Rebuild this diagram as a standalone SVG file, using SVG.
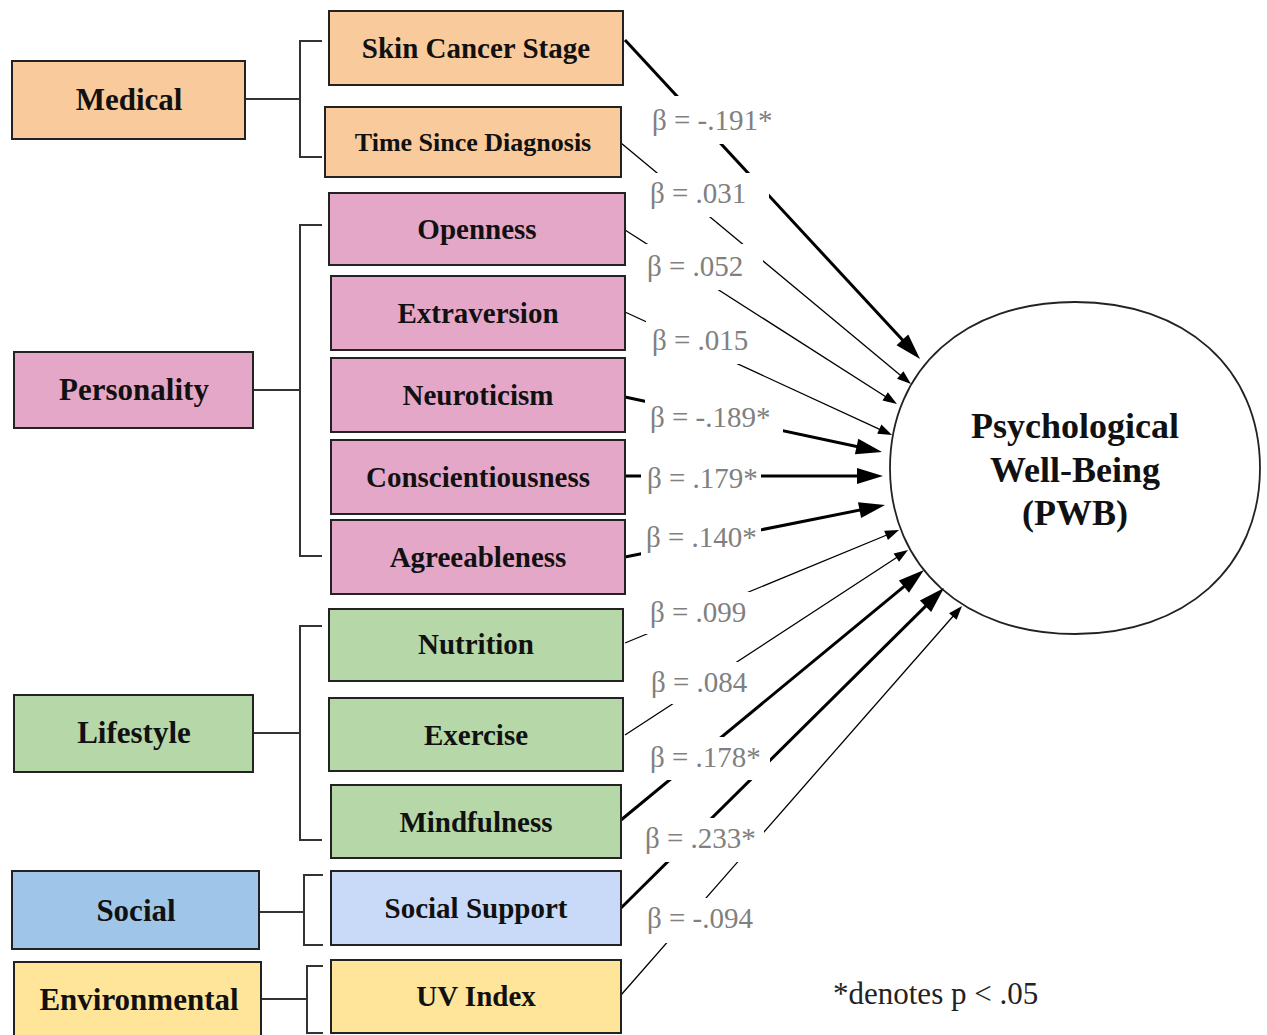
<svg xmlns="http://www.w3.org/2000/svg" width="1267" height="1035" viewBox="0 0 1267 1035">
<style>
.box{stroke:#222;stroke-width:2}
.med{fill:#f9cb9c}.per{fill:#e4a7c8}.lif{fill:#b6d7a8}.soc{fill:#9fc5e8}.ss{fill:#c9daf8}.env{fill:#ffe599}
.t{font-family:"Liberation Serif","Times New Roman",serif;font-weight:bold;fill:#111;text-anchor:middle}
.sub{font-size:29px}.cat{font-size:31px}
.br{fill:none;stroke:#333;stroke-width:2}
.thick{stroke:#000;stroke-width:3;fill:none}
.thin{stroke:#000;stroke-width:1.3;fill:none}
.lbl{font-family:"Liberation Serif","Times New Roman",serif;font-size:29px;fill:#808080}
.bg{fill:#fff}
</style>
<defs>
<marker id="ah" markerUnits="userSpaceOnUse" markerWidth="30" markerHeight="20" refX="18" refY="8" orient="auto" overflow="visible"><path d="M0,0 L26,8 L0,16 z" fill="#000"/></marker>
<marker id="as" markerUnits="userSpaceOnUse" markerWidth="16" markerHeight="12" refX="10" refY="5" orient="auto" overflow="visible"><path d="M0,0 L14,5 L0,10 z" fill="#000"/></marker>
</defs>
<rect width="1267" height="1035" fill="#fff"/>

<g id="pwb">
<path d="M890,468 C890,368.4 965,302 1075,302 C1185,302 1260,368.4 1260,468 C1260,567.6 1185,634 1075,634 C965,634 890,567.6 890,468 Z" fill="#fff" stroke="#222" stroke-width="1.8"/>
<text class="t" x="1075" y="438" font-size="36">Psychological</text>
<text class="t" x="1075" y="482" font-size="36">Well-Being</text>
<text class="t" x="1075" y="525" font-size="36">(PWB)</text>
</g>

<g id="connectors">
<path class="br" d="M245,99 H300 M322,41 H300 V157 H322"/>
<path class="br" d="M253,390 H300 M322,225 H300 V556 H322"/>
<path class="br" d="M253,733 H300 M322,626 H300 V840 H322"/>
<path class="br" d="M259,912 H304 M323,875 H304 V945 H323"/>
<path class="br" d="M261,999 H307 M323,966 H307 V1033 H323"/>

<line class="thick" x1="625" y1="40" x2="914.6" y2="353.1" marker-end="url(#ah)"/>
<line class="thin" x1="621" y1="143" x2="907.9" y2="381.4" marker-end="url(#as)"/>
<line class="thin" x1="625" y1="230" x2="893.6" y2="401.8" marker-end="url(#as)"/>
<line class="thin" x1="625" y1="312" x2="888.4" y2="433.3" marker-end="url(#as)"/>
<line class="thick" x1="625" y1="397" x2="874.2" y2="450.3" marker-end="url(#ah)"/>
<line class="thick" x1="625" y1="476" x2="875" y2="476" marker-end="url(#ah)"/>
<line class="thick" x1="625" y1="557" x2="877.2" y2="506.6" marker-end="url(#ah)"/>
<line class="thin" x1="625" y1="643" x2="895.3" y2="531.5" marker-end="url(#as)"/>
<line class="thin" x1="625" y1="735" x2="904.7" y2="552.2" marker-end="url(#as)"/>
<line class="thick" x1="621" y1="820" x2="917.8" y2="575.1" marker-end="url(#ah)"/>
<line class="thick" x1="621" y1="908" x2="938.3" y2="593.6" marker-end="url(#ah)"/>
<line class="thin" x1="621" y1="995" x2="959.4" y2="609" marker-end="url(#as)"/>

<rect class="bg" x="647" y="96" width="133" height="48"/>
<text class="lbl" x="652" y="130">β = -.191*</text>
<rect class="bg" x="645" y="173" width="124" height="44"/>
<text class="lbl" x="650" y="203">β = .031</text>
<rect class="bg" x="643" y="244" width="120" height="46"/>
<text class="lbl" x="647" y="276">β = .052</text>
<rect class="bg" x="646" y="320" width="114" height="44"/>
<text class="lbl" x="652" y="350">β = .015</text>
<rect class="bg" x="645" y="397" width="138" height="44"/>
<text class="lbl" x="650" y="427">β = -.189*</text>
<rect class="bg" x="641" y="458" width="120" height="44"/>
<text class="lbl" x="647" y="488">β = .179*</text>
<rect class="bg" x="641" y="517" width="120" height="44"/>
<text class="lbl" x="646" y="547">β = .140*</text>
<rect class="bg" x="645" y="592" width="115" height="42"/>
<text class="lbl" x="650" y="622">β = .099</text>
<rect class="bg" x="646" y="662" width="111" height="42"/>
<text class="lbl" x="651" y="692">β = .084</text>
<rect class="bg" x="645" y="737" width="125" height="43"/>
<text class="lbl" x="650" y="767">β = .178*</text>
<rect class="bg" x="640" y="818" width="124" height="44"/>
<text class="lbl" x="645" y="848">β = .233*</text>
<rect class="bg" x="642" y="898" width="121" height="45"/>
<text class="lbl" x="647" y="928">β = -.094</text>
</g>

<g id="medical"><rect class="box med" x="12" y="61" width="233" height="78"/><text class="t cat" x="129" y="110">Medical</text></g>
<g id="skin-cancer-stage"><rect class="box med" x="329" y="11" width="294" height="74"/><text class="t sub" x="476" y="58">Skin Cancer Stage</text></g>
<g id="time-since-diagnosis"><rect class="box med" x="325" y="107" width="296" height="70"/><text class="t" font-size="26" x="473" y="151">Time Since Diagnosis</text></g>

<g id="personality"><rect class="box per" x="14" y="352" width="239" height="76"/><text class="t cat" x="134" y="400">Personality</text></g>
<g id="openness"><rect class="box per" x="329" y="193" width="296" height="72"/><text class="t sub" x="477" y="239">Openness</text></g>
<g id="extraversion"><rect class="box per" x="331" y="276" width="294" height="74"/><text class="t sub" x="478" y="323">Extraversion</text></g>
<g id="neuroticism"><rect class="box per" x="331" y="358" width="294" height="74"/><text class="t sub" x="478" y="405">Neuroticism</text></g>
<g id="conscientiousness"><rect class="box per" x="331" y="440" width="294" height="74"/><text class="t sub" x="478" y="487">Conscientiousness</text></g>
<g id="agreeableness"><rect class="box per" x="331" y="520" width="294" height="74"/><text class="t sub" x="478" y="567">Agreeableness</text></g>

<g id="lifestyle"><rect class="box lif" x="14" y="695" width="239" height="77"/><text class="t cat" x="134" y="743">Lifestyle</text></g>
<g id="nutrition"><rect class="box lif" x="329" y="609" width="294" height="72"/><text class="t sub" x="476" y="654">Nutrition</text></g>
<g id="exercise"><rect class="box lif" x="329" y="698" width="294" height="73"/><text class="t sub" x="476" y="745">Exercise</text></g>
<g id="mindfulness"><rect class="box lif" x="331" y="785" width="290" height="73"/><text class="t sub" x="476" y="832">Mindfulness</text></g>

<g id="social"><rect class="box soc" x="12" y="871" width="247" height="78"/><text class="t cat" x="136" y="921">Social</text></g>
<g id="social-support"><rect class="box ss" x="331" y="871" width="290" height="74"/><text class="t sub" x="476" y="918">Social Support</text></g>

<g id="environmental"><rect class="box env" x="14" y="962" width="247" height="80"/><text class="t cat" x="139" y="1010">Environmental</text></g>
<g id="uv-index"><rect class="box env" x="331" y="960" width="290" height="73"/><text class="t sub" x="476" y="1006">UV Index</text></g>

<text x="833" y="1004" font-family="Liberation Serif, Times New Roman, serif" font-size="31" fill="#222">*denotes p &lt; .05</text>
</svg>
